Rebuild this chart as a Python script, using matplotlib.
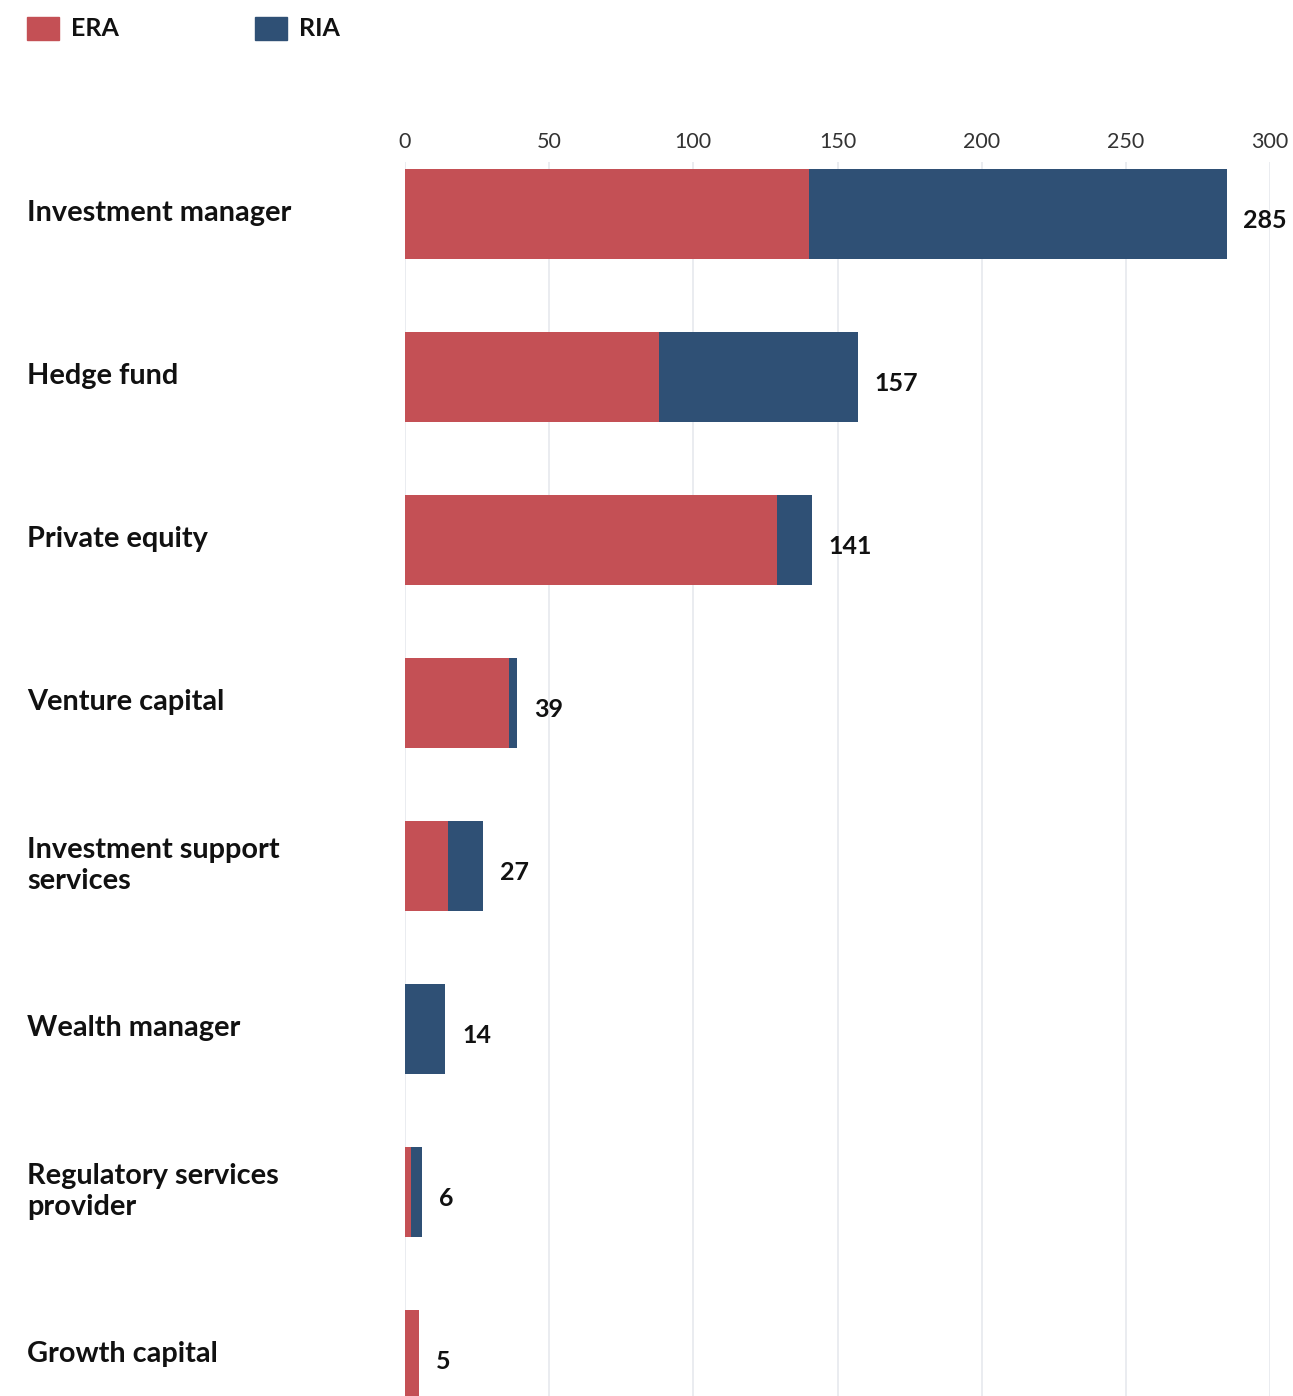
import matplotlib
matplotlib.use("Agg")
import matplotlib.pyplot as plt
from matplotlib.patches import Rectangle
from matplotlib.transforms import blended_transform_factory

plt.rcParams['font.family'] = ['Lato', 'DejaVu Sans']

# data
categories = [
    "Investment manager",
    "Hedge fund",
    "Private equity",
    "Venture capital",
    "Investment support\nservices",
    "Wealth manager",
    "Regulatory services\nprovider",
    "Growth capital",
]
era = [140, 88, 129, 36, 15, 0, 2, 5]
ria = [145, 69, 12, 3, 12, 14, 4, 0]
x_ticks = [0, 50, 100, 150, 200, 250, 300]

ERA_COLOR = "#C45055"
RIA_COLOR = "#2F5075"
GRID_COLOR = "#E6E9EE"

W, H = 1293, 1396
fig = plt.figure(figsize=(W / 100, H / 100), dpi=100)

# axes placed in pixel terms: x 405..1270, y 162..1396
ax = fig.add_axes([405 / W, 0, (1270 - 405) / W, (1396 - 162) / H])

ypos = list(range(len(categories)))
bar_h = 90 / 163

ax.barh(ypos, era, height=bar_h, color=ERA_COLOR, zorder=2)
ax.barh(ypos, ria, left=era, height=bar_h, color=RIA_COLOR, zorder=2)

totals = [a + b for a, b in zip(era, ria)]
for y, t in zip(ypos, totals):
    ax.annotate(str(t), xy=(t, y + 0.04), xytext=(12, 0), textcoords='offset points',
                ha='left', va='center', fontsize=18, fontweight='bold', color='#111111')

ax.set_xlim(0, 300)
ax.set_ylim(7 + (1396 - 1355) / 163, -(214 - 162) / 163)

ax.xaxis.tick_top()
ax.set_xticks(x_ticks)
ax.set_xticklabels([str(v) for v in x_ticks])
ax.tick_params(axis='x', length=0, pad=7, labelsize=15.5, labelcolor='#333333')
ax.set_yticks([])
ax.grid(axis='x', color=GRID_COLOR, linewidth=1.2, zorder=0)
for s in ax.spines.values():
    s.set_visible(False)

# category labels, left aligned at the figure edge
trans = blended_transform_factory(fig.transFigure, ax.transData)
for y, lab in zip(ypos, categories):
    ax.text(27 / W, y - 0.005, lab, transform=trans, ha='left', va='center',
            fontsize=20.8, fontweight='bold', color='#111111', linespacing=1.25)

# legend drawn by hand at top left
for x0, name, col in [(27, "ERA", ERA_COLOR), (255, "RIA", RIA_COLOR)]:
    fig.add_artist(Rectangle((x0 / W, 1 - 40 / H), 32 / W, 23 / H,
                             transform=fig.transFigure, color=col))
    fig.text((x0 + 44) / W, 1 - 28 / H, name, ha='left', va='center',
             fontsize=18, fontweight='bold', color='#111111')

fig.savefig("out.png", dpi=100)
